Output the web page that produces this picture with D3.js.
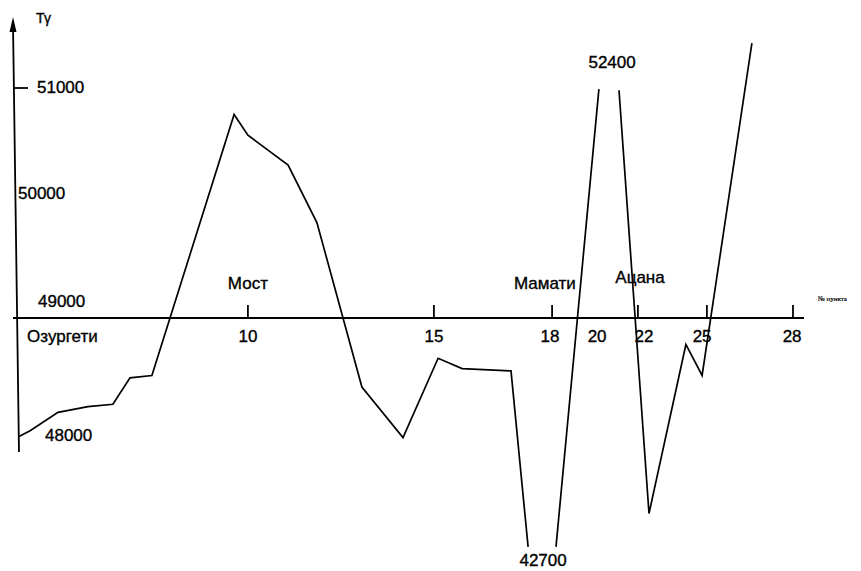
<!DOCTYPE html>
<html>
<head>
<meta charset="utf-8">
<script src="https://cdn.jsdelivr.net/npm/d3@7"></script>
<style>
  body { margin: 0; background: #fff; }
  text { font-family: "Liberation Sans", Arial, sans-serif; fill: #000; stroke: #000; stroke-width: 0.35; }
</style>
</head>
<body>
<div id="chart"></div>
<script>
// profile, distance along route (km) and field T (gamma); null = off-scale break
const profileKm = [0.2, 0.57, 1.5, 2.5, 3.33, 3.9, 4.63, 7.37, 7.83, 9.17, 10.13, 11.63, 13.0,
  14.17, 14.97, 16.6, 17.17, null, 18.1, 19.53, null, 20.2, 21.2, 22.43, 22.97, 24.63];
const profileT = [47970, 48020, 48180, 48230, 48250, 48480, 48500, 50770, 50590, 50330, 49830,
  48400, 47960, 48650, 48560, 48540, 47010, null, 47010, 50990, null, 50980, 47300, 48770, 48500, 51390];

// stations on the axis
const stationLabels = ["Озургети", "10", "15", "18", "20", "22", "25", "28"];
const stationKm = [0.47, 7.83, 14.03, 17.9, 19.47, 21.03, 22.97, 25.97];
const tickKm = [7.83, 14.03, 17.97, 20.83, 23.13, 26.0];

// place names
const placeNames = ["Мост", "Мамати", "Ацана"];
const placeKm = [7.83, 17.73, 20.9];

// off-scale extremes
const extremeValues = [52400, 42700];
const extremeKm = [19.97, 17.67];

const yTickValues = [51000, 50000, 49000, 48000];

const width = 861;
const height = 571;
const axisY = 318;

const svg = d3.select("#chart")
  .append("svg").attr("width", width).attr("height", height);

svg.append("rect")
  .attr("width", width).attr("height", height).attr("fill", "white");

const x = d3.scaleLinear().domain([0, 26]).range([13, 793]);
const y = d3.scaleLinear().domain([48000, 51000]).range([433, 88]);

// vertical axis (slightly skewed like the scan)
svg.append("line")
  .attr("x1", 13).attr("y1", 24)
  .attr("x2", 19).attr("y2", 452)
  .attr("stroke", "black").attr("stroke-width", 1.8);

// arrow head
svg.append("path")
  .attr("d", "M13,17 L9.5,32 L16.5,32 Z")
  .attr("fill", "black");

svg.append("text")
  .attr("x", 36).attr("y", 23)
  .attr("font-size", 14)
  .attr("textLength", 15)
  .text("Tγ");

// y labels
const yLabelPos = {
  51000: { dx: 37, dy: 5 },
  50000: { dx: 18, dy: -4 },
  49000: { dx: 38, dy: -11 },
  48000: { dx: 45, dy: 8 }
};

svg.append("line")
  .attr("x1", 13).attr("x2", 28)
  .attr("y1", y(51000)).attr("y2", y(51000))
  .attr("stroke", "black").attr("stroke-width", 1.8);

svg.selectAll(".ylab")
  .data(yTickValues)
  .enter().append("text")
  .attr("class", "ylab")
  .attr("x", d => yLabelPos[d].dx)
  .attr("y", d => y(d) + yLabelPos[d].dy)
  .attr("font-size", 17)
  .text(d => d);

// horizontal axis at 49000
svg.append("line")
  .attr("x1", 13).attr("x2", 804)
  .attr("y1", axisY).attr("y2", axisY)
  .attr("stroke", "black").attr("stroke-width", 2);

svg.selectAll(".xtick")
  .data(tickKm)
  .enter().append("line")
  .attr("class", "xtick")
  .attr("x1", d => x(d)).attr("x2", d => x(d))
  .attr("y1", axisY).attr("y2", axisY - 13)
  .attr("stroke", "black").attr("stroke-width", 1.8);

svg.selectAll(".xlab")
  .data(stationLabels)
  .enter().append("text")
  .attr("class", "xlab")
  .attr("x", (d, i) => x(stationKm[i]))
  .attr("y", 342)
  .attr("font-size", 17)
  .attr("text-anchor", (d, i) => i === 0 ? "start" : "middle")
  .text(d => d);

svg.selectAll(".place")
  .data(placeNames)
  .enter().append("text")
  .attr("class", "place")
  .attr("x", (d, i) => x(placeKm[i]))
  .attr("y", (d, i) => i === 2 ? 283 : 289)
  .attr("font-size", 17)
  .attr("text-anchor", "middle")
  .text(d => d);

svg.append("text")
  .attr("x", 818).attr("y", 301)
  .attr("font-size", 7)
  .style("font-family", "'Liberation Serif', serif")
  .style("stroke-width", 0.2)
  .text("№ пункта");

// profile line
const line = d3.line()
  .defined((d, i) => profileT[i] !== null)
  .x((d, i) => x(profileKm[i]))
  .y((d, i) => y(profileT[i]));

svg.append("path")
  .datum(profileKm)
  .attr("d", line)
  .attr("fill", "none")
  .attr("stroke", "black")
  .attr("stroke-width", 1.7)
  .attr("stroke-linejoin", "miter");

// extreme labels
svg.selectAll(".ext")
  .data(extremeValues)
  .enter().append("text")
  .attr("class", "ext")
  .attr("x", (d, i) => x(extremeKm[i]))
  .attr("y", (d, i) => i === 0 ? 68 : 566)
  .attr("font-size", 17)
  .attr("text-anchor", "middle")
  .text(d => d);
</script>
</body>
</html>
